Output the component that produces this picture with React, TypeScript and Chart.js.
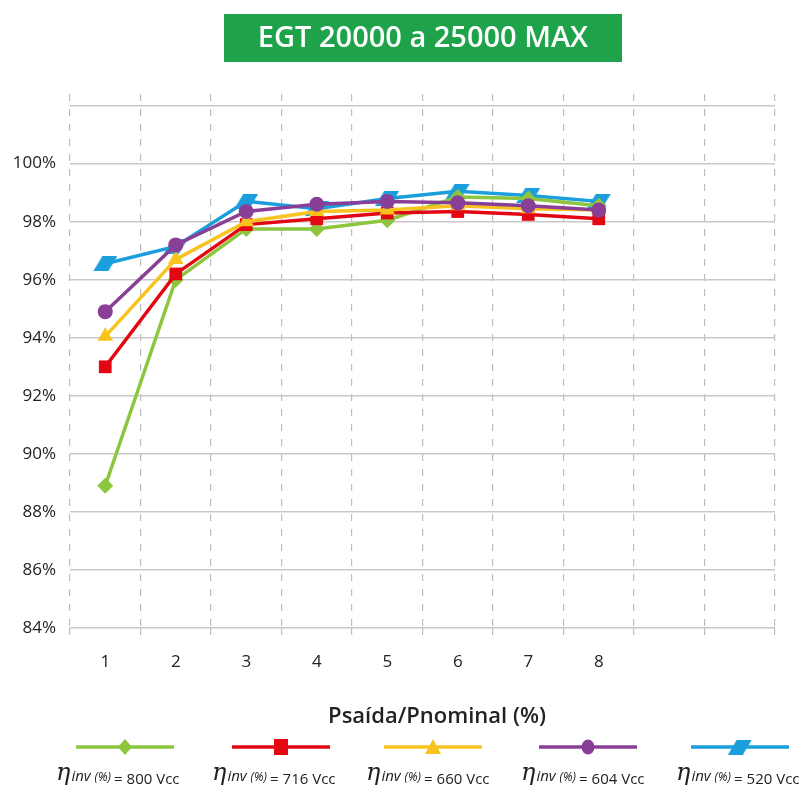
import React, { useEffect, useRef } from "react";
import { Chart, registerables } from "chart.js";

Chart.register(...registerables);

const categories = ["1", "2", "3", "4", "5", "6", "7", "8", "", ""];
const v800 = [88.9, 96.0, 97.75, 97.75, 98.05, 98.85, 98.8, 98.55];
const v716 = [93.0, 96.2, 97.9, 98.1, 98.3, 98.35, 98.25, 98.1];
const v660 = [94.05, 96.7, 98.0, 98.35, 98.4, 98.55, 98.45, 98.4];
const v604 = [94.9, 97.2, 98.35, 98.6, 98.7, 98.65, 98.55, 98.4];
const v520 = [96.55, 97.15, 98.7, 98.45, 98.8, 99.05, 98.9, 98.7];
const seriesVoltages = ["800", "716", "660", "604", "520"];
const titleText = "EGT 20000 a 25000 MAX";
const xTitle = "Psaída/Pnominal (%)";

const GREEN = "#8cc63e";
const RED = "#e30613";
const YELLOW = "#f9c31f";
const PURPLE = "#8a3f97";
const BLUE = "#1a9fdc";

function makeParallelogram(color: string) {
  const c = document.createElement("canvas");
  c.width = 24;
  c.height = 15;
  const g = c.getContext("2d")!;
  g.fillStyle = color;
  g.beginPath();
  g.moveTo(9, 0);
  g.lineTo(24, 0);
  g.lineTo(15, 15);
  g.lineTo(0, 15);
  g.closePath();
  g.fill();
  return c;
}

const FONT = "'Open Sans', 'DejaVu Sans', sans-serif";

export default function App() {
  const ref = useRef<HTMLCanvasElement>(null);
  useEffect(() => {
    const para = makeParallelogram(BLUE);
    const styles = [
      { data: v800, color: GREEN, style: "rectRot", r: 8, order: 3 },
      { data: v716, color: RED, style: "rect", r: 9, order: 2 },
      { data: v660, color: YELLOW, style: "triangle", r: 9, order: 1 },
      { data: v604, color: PURPLE, style: "circle", r: 7.5, order: 0 },
      { data: v520, color: BLUE, style: para as any, r: 8, order: 4 },
    ];

    const deco = {
      id: "deco",
      afterDraw(chart: any) {
        const ctx = chart.ctx;
        ctx.save();
        // title box
        ctx.fillStyle = "#1ea34b";
        ctx.fillRect(224, 14, 398, 48);
        ctx.fillStyle = "#ffffff";
        ctx.font = `600 29px ${FONT}`;
        ctx.textAlign = "center";
        ctx.textBaseline = "middle";
        ctx.fillText(titleText, 423, 39);
        // x title
        ctx.fillStyle = "#222";
        ctx.font = `600 22px ${FONT}`;
        ctx.fillText(xTitle, 437, 717);
        // legend
        const centers = [125, 281, 433, 588, 740];
        const textStarts = [56, 212, 366, 521, 676];
        styles.forEach((s, i) => {
          const cx = centers[i];
          const cy = 747;
          ctx.strokeStyle = s.color;
          ctx.lineWidth = 3.5;
          ctx.beginPath();
          ctx.moveTo(cx - 49, cy);
          ctx.lineTo(cx + 49, cy);
          ctx.stroke();
          ctx.fillStyle = s.color;
          ctx.beginPath();
          if (i === 0) {
            ctx.moveTo(cx, cy - 8);
            ctx.lineTo(cx + 7, cy);
            ctx.lineTo(cx, cy + 8);
            ctx.lineTo(cx - 7, cy);
            ctx.closePath();
            ctx.fill();
          } else if (i === 1) {
            ctx.fillRect(cx - 7, cy - 8, 14, 16);
          } else if (i === 2) {
            ctx.moveTo(cx, cy - 8);
            ctx.lineTo(cx + 8, cy + 7);
            ctx.lineTo(cx - 8, cy + 7);
            ctx.closePath();
            ctx.fill();
          } else if (i === 3) {
            ctx.ellipse(cx, cy, 6.5, 7.5, 0, 0, Math.PI * 2);
            ctx.fill();
          } else {
            ctx.drawImage(para, cx - 12, cy - 7.5);
          }
          // label
          let x = textStarts[i];
          const by = 784;
          ctx.fillStyle = "#222";
          ctx.textAlign = "left";
          ctx.textBaseline = "alphabetic";
          ctx.font = `italic 24px 'DejaVu Serif', serif`;
          ctx.fillText("η", x, by - 4);
          x += ctx.measureText("η").width + 1;
          ctx.font = `italic 15px ${FONT}`;
          ctx.fillText("inv", x, by - 3);
          x += ctx.measureText("inv ").width;
          ctx.font = `italic 12px ${FONT}`;
          ctx.fillText("(%)", x, by - 3);
          x += ctx.measureText("(%) ").width;
          ctx.font = `15px ${FONT}`;
          ctx.fillText(`= ${seriesVoltages[i]} Vcc`, x, by);
        });
        ctx.restore();
      },
    };

    const chart = new Chart(ref.current!, {
      type: "line",
      data: {
        labels: categories,
        datasets: styles.map((s, i) => ({
          label: `${seriesVoltages[i]} Vcc`,
          data: s.data,
          borderColor: s.color,
          backgroundColor: s.color,
          borderWidth: 3.5,
          pointStyle: s.style as any,
          pointRadius: s.r,
          pointBorderWidth: 0,
          pointBackgroundColor: s.color,
          order: s.order,
          tension: 0,
        })),
      },
      options: {
        animation: false,
        responsive: true,
        maintainAspectRatio: false,
        layout: { padding: { left: 0, right: 31, top: 94, bottom: 0 } },
        plugins: {
          legend: { display: false },
          tooltip: { enabled: false },
          title: { display: false },
        },
        scales: {
          x: {
            type: "category",
            offset: true,
            afterFit: (s: any) => {
              s.height = 161;
            },
            grid: {
              offset: true,
              color: "#bdbdbd",
              lineWidth: 1.2,
              tickLength: 12,
              drawTicks: true,
              tickBorderDash: [7, 8],
            } as any,
            border: { display: false, dash: [7, 8] },
            ticks: {
              color: "#222",
              font: { family: FONT, size: 17 },
              padding: 12,
              maxRotation: 0,
              autoSkip: false,
            },
          },
          y: {
            min: 84,
            max: 102.4,
            afterFit: (s: any) => {
              s.width = 70;
            },
            grid: { color: "#c8c8c8", lineWidth: 1.5, drawTicks: false },
            border: { display: false },
            ticks: {
              stepSize: 2,
              includeBounds: false,
              padding: 14,
              color: "#222",
              font: { family: FONT, size: 17 },
              callback: (v: any) => (Number(v) > 101 ? "" : `${v}%`),
            },
          },
        },
      },
      plugins: [deco],
    });
    return () => chart.destroy();
  }, []);
  return (
    <div style={{ position: "absolute", left: 0, top: 0, width: 806, height: 789 }}>
      <canvas ref={ref} />
    </div>
  );
}
